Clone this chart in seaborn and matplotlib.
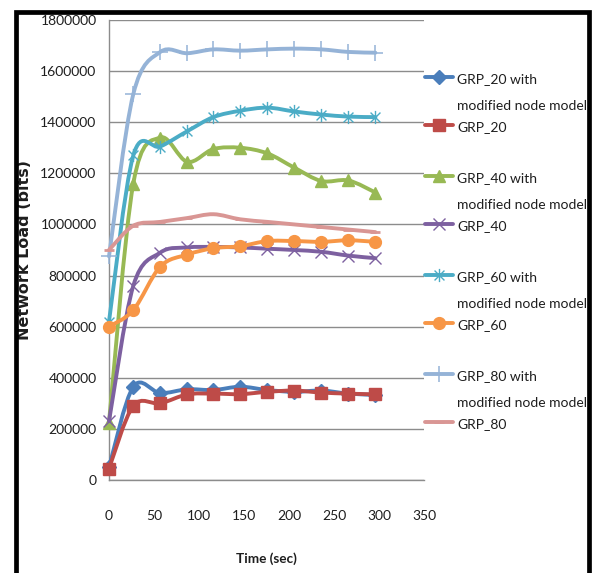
import numpy as np
import pandas as pd
import matplotlib
matplotlib.use("Agg")
import matplotlib.pyplot as plt
import seaborn as sns
from matplotlib.path import Path
from matplotlib.patches import PathPatch
from matplotlib.lines import Line2D

# ---- data -------------------------------------------------------------
time_sec = [0, 27, 57, 87, 116, 146, 176, 206, 236, 266, 296]

grp20_mod = [50000, 365000, 340000, 355000, 352000, 365000, 352000, 345000, 350000, 338000, 333000]
grp20 = [45000, 290000, 300000, 335000, 338000, 336000, 345000, 350000, 342000, 338000, 335000]
grp40_mod = [225000, 1160000, 1340000, 1245000, 1295000, 1300000, 1278000, 1222000, 1170000, 1172000, 1125000]
grp40 = [230000, 760000, 890000, 910000, 912000, 910000, 905000, 900000, 893000, 878000, 868000]
grp60_mod = [620000, 1270000, 1305000, 1365000, 1420000, 1445000, 1457000, 1442000, 1430000, 1422000, 1420000]
grp60 = [600000, 665000, 835000, 882000, 907000, 915000, 935000, 935000, 932000, 938000, 932000]
grp80_mod = [875000, 1510000, 1675000, 1670000, 1685000, 1680000, 1685000, 1688000, 1685000, 1675000, 1672000]
grp80 = [900000, 995000, 1010000, 1025000, 1040000, 1020000, 1010000, 1000000, 990000, 980000, 970000]

series_labels = [
    "GRP_20 with\nmodified node model", "GRP_20",
    "GRP_40 with\nmodified node model", "GRP_40",
    "GRP_60 with\nmodified node model", "GRP_60",
    "GRP_80 with\nmodified node model", "GRP_80",
]
series_values = [grp20_mod, grp20, grp40_mod, grp40, grp60_mod, grp60, grp80_mod, grp80]

y_ticks = [0, 200000, 400000, 600000, 800000, 1000000, 1200000, 1400000, 1600000, 1800000]
x_ticks = [0, 50, 100, 150, 200, 250, 300, 350]

# ---- styles -----------------------------------------------------------
asterisk = Path(
    [(0, -1), (0, 1), (-0.75, -0.75), (0.75, 0.75), (-0.75, 0.75), (0.75, -0.75)],
    [Path.MOVETO, Path.LINETO] * 3,
)
styles = [
    dict(color="#4A7EBB", marker="D", ms=7.0, mew=1.0),
    dict(color="#BE4B48", marker="s", ms=8.5, mew=1.0),
    dict(color="#98B954", marker="^", ms=9.0, mew=1.0),
    dict(color="#7D60A0", marker="x", ms=8.0, mew=1.0),
    dict(color="#4BACC6", marker=asterisk, ms=9.5, mew=1.0),
    dict(color="#F79646", marker="o", ms=8.5, mew=1.0),
    dict(color="#95B3D7", marker="+", ms=11.0, mew=1.1),
    dict(color="#D99694", marker="_", ms=7.0, mew=2.0),
]
LW = 2.8
GRID = "#8C8C8C"
TXT = "#1E1E1E"
BODY = ["Lato", "DejaVu Sans"]

sns.set_style("white")
plt.rcParams["font.family"] = BODY

W, H = 592, 573
fig = plt.figure(figsize=(W / 100, H / 100), dpi=100)
fig.patch.set_facecolor("white")
ax = fig.add_axes([109 / W, 1 - 480 / H, 315 / W, 460 / H])


def smooth_path(xs, ys):
    """Cubic Bezier path through the points (Catmull-Rom style smoothing)."""
    pts = np.column_stack([xs, ys]).astype(float)
    n = len(pts)
    verts = [pts[0]]
    codes = [Path.MOVETO]
    for i in range(n - 1):
        p0 = pts[i - 1] if i > 0 else pts[i]
        p1, p2 = pts[i], pts[i + 1]
        p3 = pts[i + 2] if i + 2 < n else pts[i + 1]
        verts += [p1 + (p2 - p0) / 6.0, p2 - (p3 - p1) / 6.0, p2]
        codes += [Path.CURVE4] * 3
    return Path(verts, codes)


for i, (label, vals) in enumerate(zip(series_labels, series_values)):
    st = styles[i]
    z = 3 + i
    patch = PathPatch(smooth_path(time_sec, vals), facecolor="none",
                      edgecolor=st["color"], lw=LW, zorder=z, clip_on=False,
                      capstyle="round", joinstyle="round")
    ax.add_patch(patch)
    df = pd.DataFrame({"Time (sec)": time_sec, "load": vals})
    sns.lineplot(data=df, x="Time (sec)", y="load", ax=ax, color=st["color"],
                 marker=st["marker"], markersize=st["ms"], markeredgewidth=st["mew"],
                 markeredgecolor=st["color"], linestyle="", errorbar=None,
                 zorder=z + 0.5, clip_on=False, legend=False)

# ---- axes -------------------------------------------------------------
ax.set_xlim(0, 350)
ax.set_ylim(0, 1800000)
ax.set_xticks(x_ticks)
ax.set_yticks(y_ticks)
ax.set_xticklabels([str(t) for t in x_ticks])
ax.set_yticklabels([str(t) for t in y_ticks])
ax.yaxis.grid(True, color=GRID, lw=1.0)
ax.xaxis.grid(False)
ax.set_axisbelow(True)
for side in ("top", "right"):
    ax.spines[side].set_visible(False)
for side in ("left", "bottom"):
    ax.spines[side].set_color(GRID)
    ax.spines[side].set_linewidth(1.0)
ax.tick_params(axis="x", direction="out", length=4.5, width=1.0, color=GRID,
               pad=17, labelsize=10, labelcolor=TXT)
ax.tick_params(axis="y", direction="out", length=4.0, width=1.0, color=GRID,
               pad=5, labelsize=10, labelcolor=TXT)

ax.set_xlabel("Time (sec)", fontsize=9.8, fontweight="bold", color=TXT)
ax.xaxis.set_label_coords(0.5, (480 - 552) / 460)
ax.set_ylabel("Network Load (bits)", fontsize=11.5, fontweight="bold",
              color=TXT, family=["DejaVu Sans"])
ax.yaxis.label.set_va("center")
ax.yaxis.set_label_coords((25 - 109) / 315, (480 - 250) / 460)

# ---- legend (right side, handles aligned with the first text line) ---
def fx(px):
    return px / W


def fy(py):
    return 1 - py / H


B0, PAIR_STEP = 83, 99
for k in range(4):
    base = B0 + PAIR_STEP * k
    rows = [(2 * k, [base, base + 27]), (2 * k + 1, [base + 48])]
    for idx, baselines in rows:
        st = styles[idx]
        hy = baselines[0] - 6
        fig.add_artist(Line2D([fx(425), fx(453)], [fy(hy), fy(hy)], color=st["color"],
                              lw=LW, transform=fig.transFigure))
        fig.add_artist(Line2D([fx(439)], [fy(hy)], color=st["color"], marker=st["marker"],
                              ms=st["ms"], mew=st["mew"], mec=st["color"], linestyle="",
                              transform=fig.transFigure))
        for line, b in zip(series_labels[idx].split("\n"), baselines):
            fig.text(fx(457), fy(b), line, ha="left", va="baseline",
                     fontsize=10, color=TXT, family=BODY)

# ---- outer frame (open at the bottom) --------------------------------
fig.add_artist(Line2D([fx(15.5), fx(15.5), fx(588.5), fx(588.5)],
                      [fy(H + 5), fy(12), fy(12), fy(H + 5)],
                      color="black", lw=3.4, solid_joinstyle="miter",
                      transform=fig.transFigure))

fig.savefig("out.png", dpi=100, facecolor="white")
